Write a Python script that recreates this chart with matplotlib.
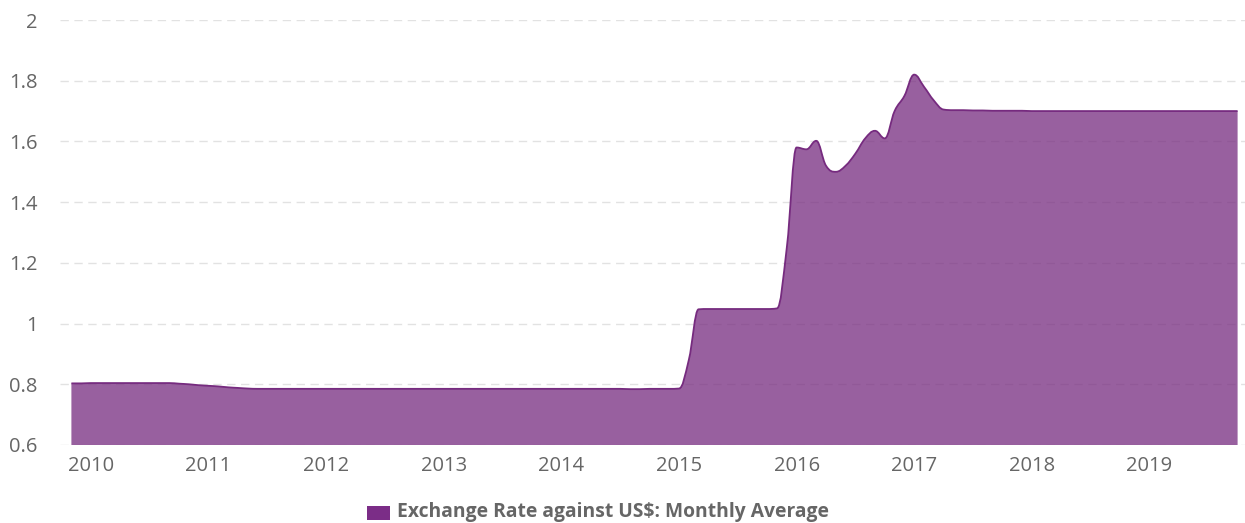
import numpy as np
import matplotlib
matplotlib.use("Agg")
import matplotlib.pyplot as plt
from matplotlib.path import Path
from matplotlib.patches import PathPatch

# Monthly average exchange rate against US$, Nov 2009 - Oct 2019
start_year = 2009
start_month = 11
rates_2009 = [0.803, 0.803]
rates_2010 = [0.804, 0.804, 0.804, 0.804, 0.804, 0.804, 0.804, 0.804, 0.804, 0.802, 0.800, 0.797]
rates_2011 = [0.795, 0.793, 0.790, 0.788, 0.786, 0.785, 0.785, 0.785, 0.785, 0.785, 0.785, 0.785]
rates_2012 = [0.785, 0.785, 0.785, 0.785, 0.785, 0.785, 0.785, 0.785, 0.785, 0.785, 0.785, 0.785]
rates_2013 = [0.785, 0.785, 0.785, 0.785, 0.785, 0.785, 0.785, 0.785, 0.785, 0.785, 0.785, 0.785]
rates_2014 = [0.785, 0.785, 0.785, 0.785, 0.785, 0.785, 0.785, 0.784, 0.784, 0.785, 0.785, 0.785]
rates_2015 = [0.786, 0.880, 1.047, 1.048, 1.048, 1.048, 1.048, 1.048, 1.048, 1.048, 1.050, 1.250]
rates_2016 = [1.580, 1.574, 1.602, 1.520, 1.500, 1.520, 1.560, 1.610, 1.635, 1.610, 1.700, 1.750]
rates_2017 = [1.820, 1.780, 1.735, 1.705, 1.703, 1.703, 1.702, 1.702, 1.701, 1.701, 1.701, 1.701]
rates_2018 = [1.700, 1.700, 1.700, 1.700, 1.700, 1.700, 1.700, 1.700, 1.700, 1.700, 1.700, 1.700]
rates_2019 = [1.700, 1.700, 1.700, 1.700, 1.700, 1.700, 1.700, 1.700, 1.700, 1.700]

year_ticks = list(range(2010, 2020))
y_ticks = [0.6, 0.8, 1.0, 1.2, 1.4, 1.6, 1.8, 2.0]
legend_label = "Exchange Rate against US$: Monthly Average"

rates = np.array(rates_2009 + rates_2010 + rates_2011 + rates_2012 + rates_2013
                 + rates_2014 + rates_2015 + rates_2016 + rates_2017 + rates_2018
                 + rates_2019)
t = start_year + (start_month - 1 + np.arange(len(rates))) / 12.0

LINE = "#762b7f"
GRID = "#e2e2e2"
TEXT = "#666666"


def spline_path(xs, ys, smoothing=1.5):
    """Bezier path through the points, like a Highcharts spline."""
    denom = smoothing + 1
    n = len(xs)
    left = [None] * n
    right = [None] * n
    for i in range(1, n - 1):
        x, y = xs[i], ys[i]
        lx, ly = xs[i - 1], ys[i - 1]
        nx, ny = xs[i + 1], ys[i + 1]
        lcx = (smoothing * x + lx) / denom
        lcy = (smoothing * y + ly) / denom
        rcx = (smoothing * x + nx) / denom
        rcy = (smoothing * y + ny) / denom
        corr = (rcy - lcy) * (rcx - x) / (rcx - lcx) + y - rcy
        lcy += corr
        rcy += corr
        if lcy > max(ly, y):
            lcy = max(ly, y)
            rcy = 2 * y - lcy
        elif lcy < min(ly, y):
            lcy = min(ly, y)
            rcy = 2 * y - lcy
        if rcy > max(ny, y):
            rcy = max(ny, y)
            lcy = 2 * y - rcy
        elif rcy < min(ny, y):
            rcy = min(ny, y)
            lcy = 2 * y - rcy
        left[i] = (lcx, lcy)
        right[i] = (rcx, rcy)
    left[n - 1] = (xs[n - 1], ys[n - 1])
    right[0] = (xs[0], ys[0])
    verts = [(xs[0], ys[0])]
    codes = [Path.MOVETO]
    for i in range(1, n):
        verts += [right[i - 1], left[i], (xs[i], ys[i])]
        codes += [Path.CURVE4] * 3
    return verts, codes


fig = plt.figure(figsize=(12.45, 5.23), dpi=100)
ax = fig.add_axes([60 / 1245, 1 - 445 / 523, 1 - 60 / 1245, 425 / 523])

px_per_year = 117.6
x_left = 2010 - (91 - 60) / px_per_year
x_right = 2010 + (1245 - 91) / px_per_year
ax.set_xlim(x_left, x_right)
ax.set_ylim(0.6, 2.0)

verts, codes = spline_path(t, rates)
line_path = Path(verts, codes)
area_verts = verts + [(t[-1], 0.6), (t[0], 0.6), (t[0], rates[0])]
area_codes = codes + [Path.LINETO, Path.LINETO, Path.CLOSEPOLY]
ax.add_patch(PathPatch(Path(area_verts, area_codes), facecolor=LINE, alpha=0.75,
                       edgecolor="none", zorder=2))
ax.add_patch(PathPatch(line_path, facecolor="none", edgecolor=LINE, lw=1.3, zorder=3))

for v in y_ticks:
    ax.axhline(v, color=GRID, lw=1, ls=(0, (6, 4)), zorder=1)

ax.set_yticks(y_ticks)
ax.set_yticklabels([f"{v:g}" for v in y_ticks])
ax.set_xticks(year_ticks)
ax.set_xticklabels([str(y) for y in year_ticks])
for s in ax.spines.values():
    s.set_visible(False)
ax.tick_params(axis="both", length=0, labelsize=14.5, labelcolor=TEXT)
ax.tick_params(axis="y", pad=16)
ax.tick_params(axis="x", pad=8)
for lbl in ax.get_xticklabels() + ax.get_yticklabels():
    lbl.set_fontfamily("Open Sans")

# legend
fig.patches.append(plt.Rectangle((367 / 1245, 1 - 520 / 523), 23 / 1245, 14 / 523,
                                 transform=fig.transFigure, facecolor="#7b2d87",
                                 edgecolor="none"))
fig.text(397 / 1245, 1 - 512 / 523, legend_label, fontsize=13.9, fontweight="bold",
         color=TEXT, family="Open Sans", va="center", ha="left")

fig.savefig("out.png", dpi=100)
